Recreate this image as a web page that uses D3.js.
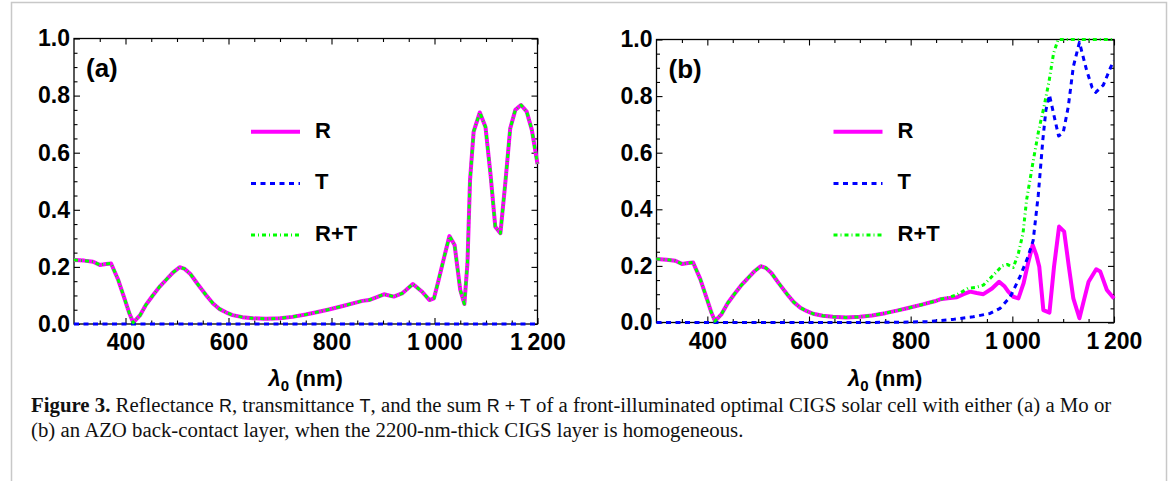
<!DOCTYPE html>
<html>
<head>
<meta charset="utf-8">
<script src="https://cdn.jsdelivr.net/npm/d3@7"></script>
<style>
  body { margin: 0; background: #fff; }
  svg { display: block; }
</style>
</head>
<body>
<svg id="chart" width="1173" height="481"></svg>
<script>
// Colour palette
const COLORS = {
  r: "#FF00FF",
  t: "#0000FF",
  rt: "#00FF00",
  axis: "#000000",
  frame: "#C8C8C8",
};

// Tick values and labels
const xMajor = [400, 600, 800, 1000, 1200];
const xTickLabels = ["400", "600", "800", "1\u2009000", "1\u2009200"];
const xMinor = [350, 450, 500, 550, 650, 700, 750, 850, 900, 950, 1050, 1100, 1150];
const yMajor = [0, 0.2, 0.4, 0.6, 0.8, 1.0];
const yTickLabels = ["0.0", "0.2", "0.4", "0.6", "0.8", "1.0"];
const yMinor = [0.05, 0.1, 0.15, 0.25, 0.3, 0.35, 0.45, 0.5, 0.55, 0.65, 0.7, 0.75, 0.85, 0.9, 0.95];

const legendLabels = ["R", "T", "R+T"];

// Series data: [wavelength nm, value]
// Short-wavelength part is the same in both panels
const rShared = [
  [300, 0.224], [320, 0.222], [337, 0.218], [350, 0.207], [362, 0.210], [372, 0.212],
  [386, 0.154], [399, 0.084], [408, 0.035], [415, 0.005], [428, 0.03], [440, 0.068],
  [453, 0.10], [466, 0.13], [479, 0.155], [492, 0.18], [505, 0.199], [515, 0.193],
  [526, 0.175], [540, 0.14], [557, 0.10], [570, 0.072], [583, 0.052], [596, 0.04],
  [608, 0.031], [627, 0.024], [647, 0.02], [673, 0.018], [700, 0.02], [724, 0.025],
  [750, 0.033], [773, 0.042], [795, 0.051], [822, 0.063], [847, 0.075],
];

// (a) Mo back contact
const rA = rShared.concat([
  [860, 0.081], [873, 0.084], [888, 0.094], [902, 0.104], [921, 0.096], [937, 0.107],
  [958, 0.14], [976, 0.113], [990, 0.084], [999, 0.09], [1008, 0.154], [1019, 0.236],
  [1029, 0.308], [1039, 0.277], [1050, 0.119], [1058, 0.07], [1064, 0.213], [1069, 0.504],
  [1076, 0.674], [1088, 0.741], [1099, 0.69], [1109, 0.52], [1118, 0.341], [1128, 0.318],
  [1138, 0.504], [1147, 0.685], [1157, 0.75], [1168, 0.767], [1179, 0.744], [1189, 0.68],
  [1200, 0.56],
]);
const tA = [[300, 0], [1200, 0]];
const rtA = rA; // T is zero, curves coincide

// (b) AZO back contact
const rB = rShared.concat([
  [858, 0.082], [873, 0.086], [891, 0.089], [904, 0.1], [917, 0.109], [930, 0.104],
  [943, 0.1], [960, 0.12], [974, 0.144], [985, 0.127], [992, 0.109], [1002, 0.091],
  [1012, 0.085], [1022, 0.138], [1031, 0.21], [1040, 0.274], [1047, 0.24], [1053, 0.197],
  [1061, 0.044], [1073, 0.035], [1082, 0.197], [1092, 0.339], [1102, 0.321], [1111, 0.2],
  [1120, 0.085], [1132, 0.015], [1141, 0.08], [1150, 0.144], [1165, 0.188], [1173, 0.18],
  [1186, 0.115], [1200, 0.085],
]);
const tB = [
  [300, 0], [700, 0], [780, 0.001], [832, 0.003], [884, 0.011], [923, 0.02], [956, 0.032],
  [976, 0.05], [996, 0.091], [1015, 0.162], [1031, 0.233], [1041, 0.29], [1051, 0.45],
  [1060, 0.645], [1066, 0.75], [1073, 0.804], [1084, 0.715], [1091, 0.659], [1100, 0.67],
  [1110, 0.762], [1120, 0.904], [1132, 0.99], [1146, 0.892], [1157, 0.83], [1164, 0.813],
  [1179, 0.839], [1194, 0.904], [1200, 0.925],
];
const rtB = rShared.concat([
  [858, 0.082], [873, 0.088], [890, 0.097], [913, 0.121], [928, 0.124], [943, 0.132],
  [963, 0.168], [980, 0.2], [990, 0.205], [1002, 0.195], [1012, 0.245], [1021, 0.315],
  [1028, 0.433], [1041, 0.57], [1052, 0.68], [1062, 0.76], [1072, 0.85], [1081, 0.95],
  [1090, 1.0], [1200, 1.0],
]);

// Layout
const PANELS = [
  { label: "(a)", left: 74, right: 537.5, top: 38.5, bottom: 324, series: [rA, tA, rtA] },
  { label: "(b)", left: 656.5, right: 1114, top: 39.5, bottom: 322.5, series: [rB, tB, rtB] },
];

const STYLES = [
  { color: COLORS.r, width: 4, dash: null },
  { color: COLORS.t, width: 3, dash: "5,4.5" },
  { color: COLORS.rt, width: 3, dash: "4,3,1,3" },
];

const FONT = "'Liberation Sans', Arial, sans-serif";
const SERIF = "'Liberation Serif', 'Times New Roman', serif";

const svg = d3.select("#chart");

// outer figure frame
svg.append("rect")
  .attr("x", 11.5)
  .attr("y", 2.5)
  .attr("width", 1155)
  .attr("height", 520)
  .attr("fill", "none")
  .attr("stroke", COLORS.frame)
  .attr("stroke-width", 1.5);

/**
 * Styles an axis group: drops the domain path, sets tick and text look
 */
function styleAxis(g) {
  g.select(".domain").remove();
  g.selectAll(".tick line").attr("stroke", COLORS.axis).attr("stroke-width", 1.1);
  g.selectAll(".tick text")
    .attr("fill", COLORS.axis)
    .style("font-family", FONT)
    .style("font-weight", "bold")
    .style("font-size", "23px");
}

/**
 * Draws one boxed panel with its curves and legend
 */
function drawPanel(p) {
  const x = d3.scaleLinear().domain([300, 1200]).range([p.left, p.right]);
  const y = d3.scaleLinear().domain([0, 1]).range([p.bottom, p.top]);

  const g = svg.append("g");

  // major + minor ticks on all four sides, pointing inward
  const sides = [
    { make: d3.axisBottom, scale: x, at: `translate(0,${p.bottom})`, major: xMajor, minor: xMinor, labels: xTickLabels, pad: 10 },
    { make: d3.axisTop, scale: x, at: `translate(0,${p.top})`, major: xMajor, minor: xMinor },
    { make: d3.axisLeft, scale: y, at: `translate(${p.left},0)`, major: yMajor, minor: yMinor, labels: yTickLabels, pad: 4 },
    { make: d3.axisRight, scale: y, at: `translate(${p.right},0)`, major: yMajor, minor: yMinor },
  ];

  sides.forEach((s) => {
    g.append("g")
      .attr("transform", s.at)
      .call(s.make(s.scale)
        .tickValues(s.major)
        .tickSizeInner(-6)
        .tickSizeOuter(0)
        .tickPadding(s.pad || 0)
        .tickFormat((d, i) => (s.labels ? s.labels[i] : "")))
      .call(styleAxis);

    g.append("g")
      .attr("transform", s.at)
      .call(s.make(s.scale)
        .tickValues(s.minor)
        .tickSizeInner(-3.5)
        .tickSizeOuter(0)
        .tickFormat(""))
      .call(styleAxis);
  });

  // plot box
  g.append("rect")
    .attr("x", p.left)
    .attr("y", p.top)
    .attr("width", p.right - p.left)
    .attr("height", p.bottom - p.top)
    .attr("fill", "none")
    .attr("stroke", COLORS.axis)
    .attr("stroke-width", 1.3);

  // curves
  const line = d3.line()
    .x((d) => x(d[0]))
    .y((d) => y(d[1]));

  p.series.forEach((data, i) => {
    const st = STYLES[i];
    g.append("path")
      .datum(data)
      .attr("d", line)
      .attr("fill", "none")
      .attr("stroke", st.color)
      .attr("stroke-width", st.width)
      .attr("stroke-linejoin", "round")
      .attr("stroke-dasharray", st.dash);
  });

  // panel label
  g.append("text")
    .attr("x", p.left + 12)
    .attr("y", p.top + 38)
    .style("font-family", FONT)
    .style("font-weight", "bold")
    .style("font-size", "26px")
    .text(p.label);

  // legend
  const legX = p.left + 177;
  legendLabels.forEach((lab, i) => {
    const ly = 131.7 + i * 51.7;
    const st = STYLES[i];
    g.append("line")
      .attr("x1", legX)
      .attr("x2", legX + 49)
      .attr("y1", ly)
      .attr("y2", ly)
      .attr("stroke", st.color)
      .attr("stroke-width", st.width)
      .attr("stroke-dasharray", st.dash);
    g.append("text")
      .attr("x", legX + 64)
      .attr("y", ly + 6)
      .attr("fill", COLORS.axis)
      .style("font-family", FONT)
      .style("font-weight", "bold")
      .style("font-size", "22px")
      .text(lab);
  });

  // x-axis title
  const title = g.append("text")
    .attr("x", (p.left + p.right) / 2)
    .attr("y", 386)
    .attr("text-anchor", "middle")
    .attr("fill", COLORS.axis)
    .style("font-family", FONT)
    .style("font-weight", "bold")
    .style("font-size", "22px");
  title.append("tspan").style("font-style", "italic").text("λ");
  title.append("tspan").attr("dy", 5).style("font-size", "15px").text("0");
  title.append("tspan").attr("dy", -5).text(" (nm)");
}

PANELS.forEach(drawPanel);

// caption
const captionLines = [
  [
    { t: "Figure 3.", bold: true },
    { t: " Reflectance " }, { t: "R", sans: true }, { t: ", transmittance " }, { t: "T", sans: true },
    { t: ", and the sum " }, { t: "R + T", sans: true },
    { t: " of a front-illuminated optimal CIGS solar cell with either (a) a Mo or" },
  ],
  [
    { t: "(b) an AZO back-contact layer, when the 2200-nm-thick CIGS layer is homogeneous." },
  ],
];

captionLines.forEach((parts, i) => {
  const txt = svg.append("text")
    .attr("x", 31)
    .attr("y", 412 + i * 25)
    .attr("fill", "#111")
    .style("font-family", SERIF)
    .style("font-size", "20.8px");
  parts.forEach((p) => {
    txt.append("tspan")
      .style("font-weight", p.bold ? "bold" : "normal")
      .style("font-family", p.sans ? FONT : SERIF)
      .style("font-size", p.sans ? "18px" : null)
      .text(p.t);
  });
});
</script>
</body>
</html>
